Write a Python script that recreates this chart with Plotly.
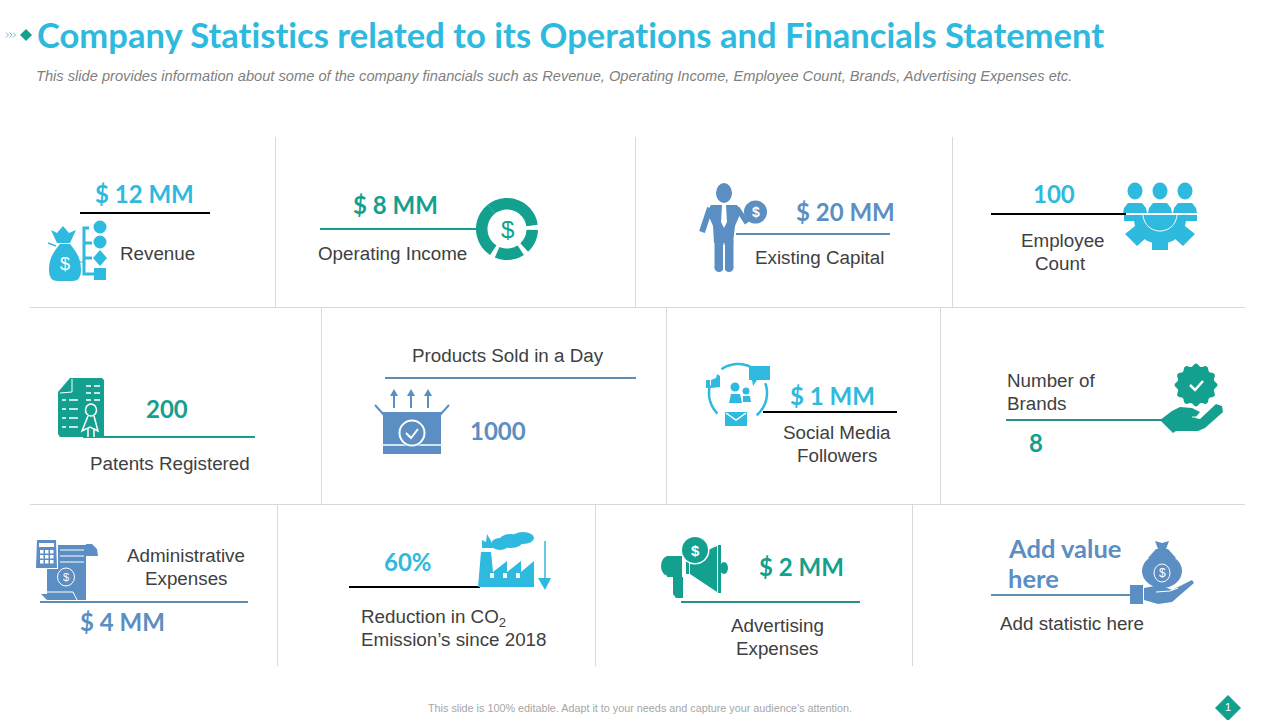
import numpy as np
import plotly.graph_objects as go

CYAN = "#2EB9DE"
TEAL = "#14A08E"
BLUE = "#5B8EC2"
LINE_BLUE = "#5F8DB0"
GRID = "#D9D9D9"
DARK = "#404040"

TITLE = "Company Statistics related to its Operations and Financials Statement"
SUBTITLE = ("This slide provides information about some of the company financials such as Revenue, "
            "Operating Income, Employee Count, Brands, Advertising Expenses etc.")
FOOTER = "This slide is 100% editable. Adapt it to your needs and capture your audience's attention."

# the figures on the slide
values = ["$ 12 MM", "$ 8 MM", "$ 20 MM", "100", "200", "1000", "$ 1 MM", "8", "$ 4 MM", "60%", "$ 2 MM"]
value_colors = [CYAN, TEAL, BLUE, CYAN, TEAL, BLUE, CYAN, TEAL, BLUE, CYAN, TEAL]
value_x = [144, 395, 845, 1054, 167, 498, 832, 1036, 122, 408, 801]
value_y = [193, 204, 211, 193, 408, 430, 395, 442, 621, 561, 566]

labels = ["Revenue", "Operating Income", "Existing Capital", "Employee", "Count", "Patents Registered",
          "Products Sold in a Day", "Social Media", "Followers", "Administrative", "Expenses",
          "Advertising", "Expenses", "Add statistic here"]
label_x = [157, 392, 819, 1063, 1060, 170, 508, 837, 837, 186, 186, 777, 777, 1072]
label_y = [253, 253, 257, 240, 263, 463, 355, 432, 455, 555, 578, 625, 648, 623]

left_labels = ["Number of", "Brands", "Reduction in CO<sub>2</sub>", "Emission\u2019s since 2018"]
left_label_x = [1007, 1007, 361, 361]
left_label_y = [380, 403, 618, 639]

# grid of the cards
row_lines = [307, 504]
col_lines = [(275, 137, 307), (635, 137, 307), (952, 137, 307),
             (321, 307, 504), (666, 307, 504), (940, 307, 504),
             (277, 504, 666), (595, 504, 666), (912, 504, 666)]
# x0, x1, y, colour of the rule in each card
rules = [(80, 210, 213, "black"), (320, 480, 229, TEAL), (736, 890, 234, LINE_BLUE), (991, 1126, 214, "black"),
         (83, 255, 437, TEAL), (385, 636, 378, LINE_BLUE), (763, 897, 412, "black"), (1006, 1165, 420, "#2A9088"),
         (40, 248, 602, LINE_BLUE), (349, 480, 587, "black"), (681, 860, 602, "#2A9088"), (991, 1132, 595, LINE_BLUE)]

shapes = []
texts = []


def poly(pts, color):
    path = "M" + " L".join(f"{x:.1f},{y:.1f}" for x, y in pts) + " Z"
    shapes.append(dict(type="path", path=path, fillcolor=color, line=dict(width=0), layer="above"))


def stroke(pts, color, width=2):
    path = "M" + " L".join(f"{x:.1f},{y:.1f}" for x, y in pts)
    shapes.append(dict(type="path", path=path, line=dict(color=color, width=width), layer="above"))


def oval(cx, cy, rx, ry, color):
    shapes.append(dict(type="circle", x0=cx - rx, x1=cx + rx, y0=cy - ry, y1=cy + ry,
                       fillcolor=color, line=dict(width=0), layer="above"))


def ring(cx, cy, rx, ry, color, width):
    shapes.append(dict(type="circle", x0=cx - rx, x1=cx + rx, y0=cy - ry, y1=cy + ry,
                       line=dict(color=color, width=width), layer="above"))


def box(x0, y0, x1, y1, color):
    shapes.append(dict(type="rect", x0=x0, x1=x1, y0=y0, y1=y1, fillcolor=color, line=dict(width=0), layer="above"))


def arc(cx, cy, r, a0, a1, color, width):
    t = np.radians(np.linspace(a0, a1, 30))
    stroke(list(zip(cx + r * np.cos(t), cy + r * np.sin(t))), color, width)


def bag(cx, top, w, bottom, color):
    # money bag body with curved sides
    h = w / 2
    path = (f"M{cx - 5},{top} C{cx - h * 0.7},{top + 8} {cx - h},{bottom - 24} {cx - h},{bottom - 10} "
            f"Q{cx - h},{bottom} {cx - h + 9},{bottom} L{cx + h - 9},{bottom} "
            f"Q{cx + h},{bottom} {cx + h},{bottom - 10} C{cx + h},{bottom - 24} {cx + h * 0.7},{top + 8} {cx + 5},{top} Z")
    shapes.append(dict(type="path", path=path, fillcolor=color, line=dict(width=0), layer="above"))


def text(x, y, s, size, color, family="Liberation Sans", anchor="center", bold=False, italic=False):
    if bold:
        s = f"<b>{s}</b>"
    if italic:
        s = f"<i>{s}</i>"
    texts.append(dict(x=x, y=y, text=s, showarrow=False, xanchor=anchor, yanchor="middle", borderpad=0, borderwidth=0,
                      font=dict(size=size, color=color, family=family)))


def dollar(x, y, size, color):
    text(x, y, "$", size, color)


def revenue_icon(c):
    bag(65, 244, 32, 281, c)
    poly([(57, 243), (51, 230), (57, 233), (63, 226), (69, 233), (76, 230), (70, 243)], c)
    stroke([(48, 243), (56, 246)], c, 1.5)
    dollar(65, 264, 18, "white")
    stroke([(89, 228), (84, 228), (84, 274), (94, 274)], c, 3)
    stroke([(84, 243), (92, 243)], c, 3)
    stroke([(84, 258), (92, 258)], c, 3)
    stroke([(80, 262), (84, 262)], c, 1)
    oval(100, 227, 6.5, 6.5, c)
    oval(100, 242, 6.5, 6.5, c)
    poly([(100, 250), (107, 258), (100, 266), (93, 258)], c)
    box(94, 268, 106, 280, c)


def operating_icon(c):
    cx, cy = 507, 229
    for a0, a1 in [(-128, -8), (2, 47), (57, 113), (123, 232)]:
        t = np.radians(np.linspace(a0, a1, 30))
        outer = list(zip(cx + 31 * np.cos(t), cy + 31 * np.sin(t)))
        inner = list(zip(cx + 19.5 * np.cos(t[::-1]), cy + 19.5 * np.sin(t[::-1])))
        poly(outer + inner, c)
    dollar(cx, cy, 24, c)


def capital_icon(c):
    oval(724, 193, 8, 10, c)
    poly([(711, 205), (737, 205), (741, 212), (735, 226), (733, 243), (714, 243), (713, 226), (707, 212)], c)
    stroke([(710, 208), (702, 232)], c, 6)
    stroke([(737, 208), (747, 223)], c, 5)
    stroke([(719, 240), (719, 268)], c, 9)
    stroke([(729, 240), (729, 268)], c, 9)
    oval(719, 268, 4.5, 4, c)
    oval(729, 268, 4.5, 4, c)
    stroke([(724, 245), (724, 271)], "white", 2)
    poly([(722, 205), (726, 205), (727, 222), (724, 228), (721, 222)], "white")
    oval(755.5, 212, 11.5, 11.5, c)
    text(755.5, 212, "<b>$</b>", 14, "white")


def employee_icon(c):
    for x in (1135, 1160, 1185):
        oval(x, 191, 7.5, 8.5, c)
        poly([(x - 7, 203), (x + 7, 203), (x + 11, 208), (x + 12, 213), (x - 12, 213), (x - 11, 208)], c)
    box(1124, 215, 1197, 221, c)
    t = np.radians(np.linspace(0, 180, 25))
    poly(list(zip(1160 + 26 * np.cos(t), 219 + 25 * np.sin(t))), c)
    box(1152, 238, 1168, 250, c)
    poly([(1125, 234), (1135, 226), (1146, 238), (1137, 246)], c)
    poly([(1195, 234), (1185, 226), (1174, 238), (1183, 246)], c)
    arc(1160, 214, 17, 0, 180, "white", 1)


def patent_icon(c):
    poly([(70, 378), (102, 378), (104, 380), (104, 437), (60, 437), (58, 434), (58, 392)], c)
    stroke([(72, 379), (72, 392), (60, 393)], "white", 1)
    for y in (400, 409, 418, 427):
        stroke([(62, y), (66, y)], "white", 1.5)
        stroke([(69, y), (78, y)], "white", 1.5)
    for y in (386, 393, 400):
        stroke([(86, y), (91, y)], "white", 1.5)
        stroke([(94, y), (100, y)], "white", 1.5)
    ring(91, 410, 5.5, 6, "white", 1.5)
    stroke([(88, 416), (82, 431), (90, 427), (98, 431), (94, 416)], "white", 1.5)
    stroke([(88, 428), (88, 437)], "white", 1.5)
    stroke([(94, 428), (94, 437)], "white", 1.5)


def products_icon(c):
    box(383, 412, 441, 454, c)
    stroke([(384, 415), (375, 405)], c, 2)
    stroke([(440, 415), (449, 405)], c, 2)
    stroke([(383, 445), (441, 445)], "white", 1.5)
    oval(412, 433, 14, 14, c)
    ring(412, 433, 12.5, 12.5, "white", 2)
    stroke([(406, 433), (411, 438), (418, 429)], "white", 2)
    for x in (394, 411, 428):
        stroke([(x, 408), (x, 392)], c, 2)
        poly([(x, 389), (x + 4, 396), (x - 4, 396)], c)


def social_icon(c):
    arc(738, 393, 29, -125, -65, c, 2.5)
    arc(738, 393, 29, -20, 50, c, 2.5)
    arc(738, 393, 29, 135, 195, c, 2.5)
    poly([(749, 366), (770, 366), (770, 380), (757, 380), (753, 386), (752, 380), (749, 380)], c)
    box(706, 380, 710, 388, c)
    poly([(711, 380), (716, 378), (717, 374), (720, 376), (720, 387), (711, 388)], c)
    oval(735, 387, 4.5, 4.5, c)
    oval(746, 391, 3.5, 3.5, c)
    poly([(729, 403), (731, 394), (740, 394), (742, 403)], c)
    poly([(743, 402), (743, 396), (750, 396), (751, 402)], c)
    box(725, 412, 747, 426, c)
    stroke([(726, 413), (736, 420), (746, 413)], "white", 1.5)


def brands_icon(c):
    t = np.radians(np.linspace(0, 360, 97))
    r = 20 + 1.5 * np.cos(12 * t)
    poly(list(zip(1196 + r * np.cos(t), 385 + r * np.sin(t))), c)
    stroke([(1190, 385), (1195, 390), (1203, 381)], "white", 2.5)
    poly([(1160, 420), (1172, 411), (1180, 407), (1192, 408), (1200, 412), (1195, 418), (1200, 419),
          (1216, 404), (1222, 406), (1223, 412), (1205, 428), (1198, 431), (1176, 431), (1173, 433)], c)
    stroke([(1192, 417), (1196, 417)], "white", 1)


def admin_icon(c):
    box(47, 545, 86, 600, c)
    poly([(86, 544), (92, 544), (97, 549), (98, 556), (86, 556)], c)
    poly([(41, 594), (72, 594), (76, 600), (47, 600)], c)
    stroke([(47, 592), (73, 592), (77, 600)], "white", 1)
    box(35, 539, 58, 569, "white")
    poly([(37, 540), (56, 540), (57, 568), (36, 568)], c)
    box(39, 543, 54, 547, "white")
    for x in (40, 45, 50):
        for y in (550, 555, 560):
            box(x, y, x + 3.5, y + 3.5, "white")
    for y in (550, 556, 562):
        stroke([(60, y), (84, y)], "white", 1)
    ring(66, 577, 8.5, 9, "white", 1)
    dollar(66, 577, 11, "white")


def factory_icon(c):
    poly([(478, 587), (481, 552), (491, 552), (493, 572), (507, 561), (507, 572), (521, 561), (521, 572),
          (534, 561), (534, 587)], c)
    for x in (490, 503, 516):
        box(x, 573, x + 4, 578, "white")
    poly([(482, 548), (482, 540), (486, 542), (487, 534), (491, 541), (493, 548)], c)
    for cx, cy, rx, ry in [(500, 544, 9, 6), (511, 541, 12, 7), (523, 538, 11, 6)]:
        oval(cx, cy, rx, ry, c)
    stroke([(545, 541), (545, 580)], c, 1.5)
    poly([(538, 578), (551, 578), (545, 590)], c)


def megaphone_icon(c):
    oval(668, 566, 7, 10, c)
    box(667, 556, 682, 577, c)
    poly([(690, 558), (717, 546), (717, 592), (690, 574)], c)
    box(686, 558, 689, 574, c)
    box(718, 545, 721, 593, c)
    oval(724, 568, 4, 6, c)
    poly([(673, 577), (683, 577), (683, 598), (676, 598), (673, 594)], c)
    oval(695, 550, 14.5, 14.5, "white")
    oval(695, 550, 13, 13, c)
    text(695, 550, "<b>$</b>", 15, "white")


def add_icon(c):
    oval(1162, 571, 20, 17, c)
    poly([(1156, 549), (1168, 549), (1176, 558), (1148, 558)], c)
    poly([(1155, 541), (1162, 543), (1169, 541), (1166, 549), (1158, 549)], c)
    ring(1162, 573, 8, 9, "white", 1)
    dollar(1162, 573, 12, "white")
    box(1130, 585, 1143, 604, c)
    poly([(1144, 588), (1160, 585), (1172, 590), (1192, 580), (1194, 583), (1172, 602), (1158, 604), (1144, 600)], c)
    stroke([(1156, 592), (1170, 591), (1178, 588)], "white", 1)


def header():
    poly([(26, 29), (32, 35), (26, 41), (20, 35)], TEAL)
    for x in (6, 9.5, 13):
        stroke([(x, 32.5), (x + 2.5, 35), (x, 37.5)], "#4FA7B5", 0.8)
    text(36, 34, TITLE, 34.6, CYAN, family="Lato", anchor="left", bold=True)
    text(36, 76, SUBTITLE, 14.65, "#7F7F7F", anchor="left", italic=True)
    text(640, 708, FOOTER, 10.8, "#A6A6A6")
    poly([(1228, 695), (1241, 708), (1228, 721), (1215, 708)], TEAL)
    text(1228, 707, "1", 11, "white")


for y in row_lines:
    shapes.append(dict(type="line", x0=30, x1=1245, y0=y + 0.5, y1=y + 0.5, line=dict(color=GRID, width=1)))
for x, y0, y1 in col_lines:
    shapes.append(dict(type="line", x0=x + 0.5, x1=x + 0.5, y0=y0, y1=y1, line=dict(color=GRID, width=1)))
for x0, x1, y, color in rules:
    shapes.append(dict(type="line", x0=x0, x1=x1, y0=y, y1=y, line=dict(color=color, width=2)))

header()
revenue_icon(CYAN)
operating_icon(TEAL)
capital_icon(BLUE)
employee_icon(CYAN)
patent_icon(TEAL)
products_icon(BLUE)
social_icon(CYAN)
brands_icon(TEAL)
admin_icon(BLUE)
factory_icon(CYAN)
megaphone_icon(TEAL)
add_icon(BLUE)

for x, y, s, color in zip(value_x, value_y, values, value_colors):
    text(x, y, s, 24, color, family="Lato", bold=True)
for x, y, s in zip(label_x, label_y, labels):
    text(x, y, s, 18.8, DARK)
for x, y, s in zip(left_label_x, left_label_y, left_labels):
    text(x, y, s, 18.8, DARK, anchor="left")
text(1008, 547.5, "Add value", 25.5, BLUE, family="Lato", anchor="left", bold=True)
text(1008, 578, "here", 25.5, BLUE, family="Lato", anchor="left", bold=True)

fig = go.Figure()
fig.update_layout(
    width=1280, height=720,
    margin=dict(t=0, b=0, l=0, r=0),
    showlegend=False,
    plot_bgcolor="white", paper_bgcolor="white",
    xaxis=dict(range=[0, 1280], visible=False, fixedrange=True),
    yaxis=dict(range=[720, 0], visible=False, fixedrange=True),
    shapes=shapes,
    annotations=texts,
)
# no body margin, and no "ti" ligatures in the title
fig.write_html("out.html", config=dict(displayModeBar=False),
               post_script="document.body.style.margin='0';"
                           "var s=document.createElement('style');"
                           "s.textContent='text{font-variant-ligatures:none !important;text-rendering:optimizeSpeed !important}';"
                           "document.head.appendChild(s);")
